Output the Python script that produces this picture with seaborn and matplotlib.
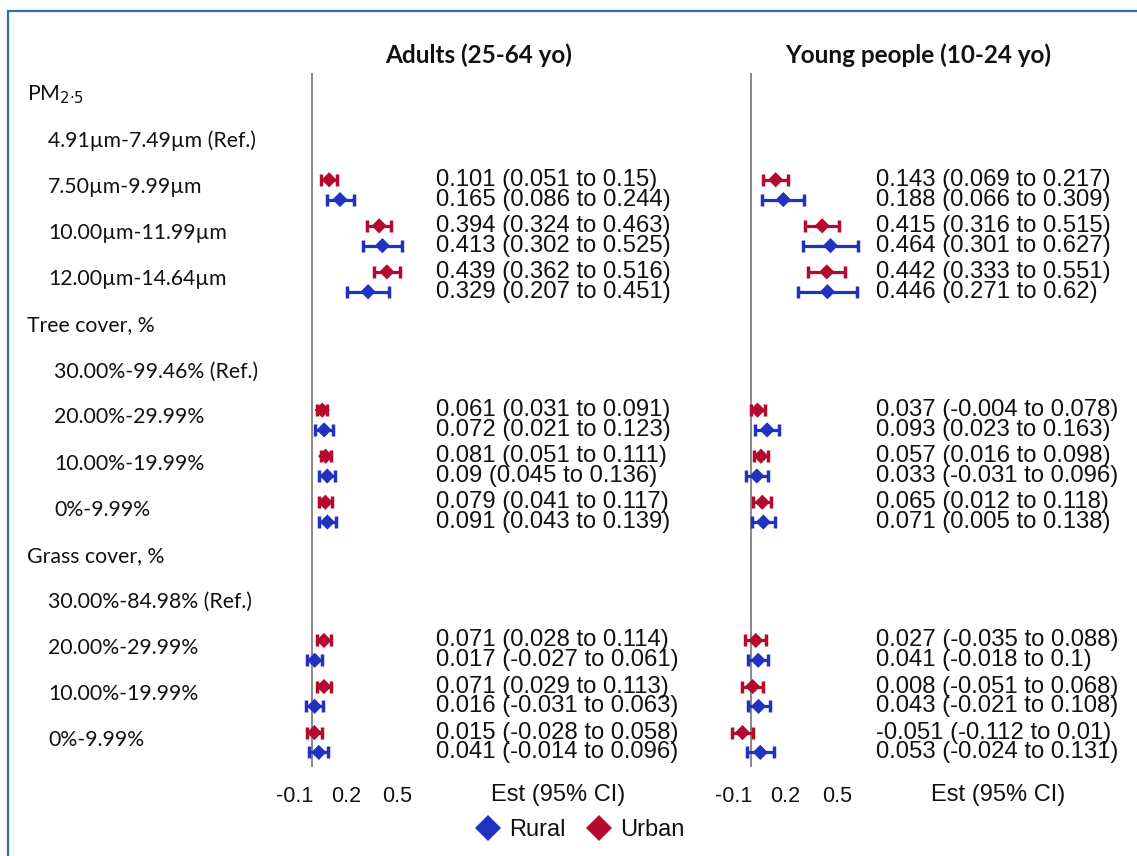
import numpy as np
import pandas as pd
import matplotlib
matplotlib.use("Agg")
import matplotlib.pyplot as plt
from matplotlib.patches import Rectangle
from matplotlib.lines import Line2D
import matplotlib.transforms as mtransforms
import seaborn as sns

# ---------------- data ----------------
row_labels = ["PM$_{2\u00b75}$", "4.91\u00b5m-7.49\u00b5m (Ref.)", "7.50\u00b5m-9.99\u00b5m",
              "10.00\u00b5m-11.99\u00b5m", "12.00\u00b5m-14.64\u00b5m",
              "Tree cover, %", "30.00%-99.46% (Ref.)", "20.00%-29.99%", "10.00%-19.99%", "0%-9.99%",
              "Grass cover, %", "30.00%-84.98% (Ref.)", "20.00%-29.99%", "10.00%-19.99%", "0%-9.99%"]
row_indent = [0, 1, 1, 1, 1, 0, 2, 2, 2, 2, 0, 1, 1, 1, 1]
data_rows = [2, 3, 4, 7, 8, 9, 12, 13, 14]

adult_urban_est = [0.101, 0.394, 0.439, 0.061, 0.081, 0.079, 0.071, 0.071, 0.015]
adult_urban_lo = [0.051, 0.324, 0.362, 0.031, 0.051, 0.041, 0.028, 0.029, -0.028]
adult_urban_hi = [0.15, 0.463, 0.516, 0.091, 0.111, 0.117, 0.114, 0.113, 0.058]
adult_rural_est = [0.165, 0.413, 0.329, 0.072, 0.09, 0.091, 0.017, 0.016, 0.041]
adult_rural_lo = [0.086, 0.302, 0.207, 0.021, 0.045, 0.043, -0.027, -0.031, -0.014]
adult_rural_hi = [0.244, 0.525, 0.451, 0.123, 0.136, 0.139, 0.061, 0.063, 0.096]

young_urban_est = [0.143, 0.415, 0.442, 0.037, 0.057, 0.065, 0.027, 0.008, -0.051]
young_urban_lo = [0.069, 0.316, 0.333, -0.004, 0.016, 0.012, -0.035, -0.051, -0.112]
young_urban_hi = [0.217, 0.515, 0.551, 0.078, 0.098, 0.118, 0.088, 0.068, 0.01]
young_rural_est = [0.188, 0.464, 0.446, 0.093, 0.033, 0.071, 0.041, 0.043, 0.053]
young_rural_lo = [0.066, 0.301, 0.271, 0.023, -0.031, 0.005, -0.018, -0.021, -0.024]
young_rural_hi = [0.309, 0.627, 0.62, 0.163, 0.096, 0.138, 0.1, 0.108, 0.131]

panel_titles = ["Adults (25-64 yo)", "Young people (10-24 yo)"]
x_ticks = [-0.1, 0.2, 0.5]
x_tick_labels = ["-0.1", "0.2", "0.5"]
settings = ["Rural", "Urban"]

# ---------------- style ----------------
BLUE = "#2232C0"
RED = "#B40A2D"
TXT = "#111111"
sns.set_theme(style="white")
plt.rcParams["font.family"] = ["Liberation Sans", "DejaVu Sans"]
LABEL_FONT = ["Lato", "DejaVu Sans"]

W, H = 1137, 856
fig = plt.figure(figsize=(W / 100, H / 100), dpi=100)

# blue frame (cut off at right / bottom like the reference)
fig.patches.append(Rectangle((8 / W, -0.1), 1.2, 1 - 11 / H + 0.1, transform=fig.transFigure,
                             fill=False, edgecolor="#2E6DB4", linewidth=1.6))

XMIN, XMAX = -0.36, 0.69
SCALE = 171.0  # px per unit
ax_w = (XMAX - XMIN) * SCALE
top_px, bot_px = 73, 767
ROW0, ROWH = 95.0, 46.07
ylim_top = (top_px - ROW0) / ROWH
ylim_bot = (bot_px - ROW0) / ROWH
zeros_px = [311.8, 751.2]

U_OFF, R_OFF = -0.16, 0.27

panels = [
    (adult_urban_est, adult_urban_lo, adult_urban_hi, adult_rural_est, adult_rural_lo, adult_rural_hi),
    (young_urban_est, young_urban_lo, young_urban_hi, young_rural_est, young_rural_lo, young_rural_hi),
]

axes = []
for p, (ue, ul, uh, re_, rl, rh) in enumerate(panels):
    left_px = zeros_px[p] + XMIN * SCALE
    ax = fig.add_axes([left_px / W, 1 - bot_px / H, ax_w / W, (bot_px - top_px) / H])
    axes.append(ax)
    rows = np.array(data_rows, dtype=float)
    df = pd.DataFrame({
        "est": list(re_) + list(ue),
        "lo": list(rl) + list(ul),
        "hi": list(rh) + list(uh),
        "y": list(rows + R_OFF) + list(rows + U_OFF),
        "setting": ["Rural"] * len(rows) + ["Urban"] * len(rows),
    })
    for s, col in zip(settings, [BLUE, RED]):
        d = df[df.setting == s]
        ax.errorbar(d["est"], d["y"], xerr=[d["est"] - d["lo"], d["hi"] - d["est"]], fmt="none",
                    ecolor=col, elinewidth=2.3, capsize=4.0, capthick=2.5, zorder=2)
    sns.scatterplot(data=df, x="est", y="y", hue="setting", palette={"Rural": BLUE, "Urban": RED},
                    marker="D", s=60, edgecolor="none", legend=False, ax=ax, zorder=3)
    ax.axvline(0, color="#7f7f7f", linewidth=1.3, zorder=1)
    ax.set_xlim(XMIN, XMAX)
    ax.set_ylim(ylim_bot, ylim_top)
    ax.set_xticks(x_ticks)
    ax.set_xticklabels(x_tick_labels)
    ax.set_yticks([])
    ax.tick_params(axis="x", length=0, pad=13.5, labelsize=15.5, labelcolor=TXT)
    ax.set_xlabel("")
    ax.set_ylabel("")
    for sp in ax.spines.values():
        sp.set_visible(False)
    ax.patch.set_alpha(0)

    # estimate texts
    for i, r in enumerate(data_rows):
        ax.text(0.727, r + U_OFF, f"{ue[i]} ({ul[i]} to {uh[i]})", fontsize=17.2,
                va="center", ha="left", clip_on=False, color=TXT)
        ax.text(0.727, r + R_OFF, f"{re_[i]} ({rl[i]} to {rh[i]})", fontsize=17.2,
                va="center", ha="left", clip_on=False, color=TXT)

    # panel title and column header
    ax.text(167 / SCALE, (55 - ROW0) / ROWH, panel_titles[p], fontsize=17.5, fontweight="bold",
            family=LABEL_FONT, ha="center", va="center", clip_on=False, color=TXT)
    ax.text(246.5 / SCALE, (795 - ROW0) / ROWH, "Est (95% CI)", fontsize=17,
            ha="center", va="center", clip_on=False, color=TXT)

# row labels
indent_px = [27, 48, 54]
tr = mtransforms.blended_transform_factory(fig.transFigure, axes[0].transData)
for r, (lab, ind) in enumerate(zip(row_labels, row_indent)):
    axes[0].text(indent_px[ind] / W, r, lab, transform=tr, fontsize=15.3, family=LABEL_FONT,
                 ha="left", va="center", clip_on=False, color=TXT)

# legend
handles = [Line2D([], [], marker="D", linestyle="none", markersize=13, color=BLUE, markeredgewidth=0),
           Line2D([], [], marker="D", linestyle="none", markersize=13, color=RED, markeredgewidth=0)]
leg = fig.legend(handles, settings, loc="center", bbox_to_anchor=(579 / W, 1 - 830 / H), ncol=2,
                 frameon=False, fontsize=17, handletextpad=0.3, columnspacing=0.8, handlelength=1.2)
for t in leg.get_texts():
    t.set_color(TXT)

fig.savefig("out.png", dpi=100)
